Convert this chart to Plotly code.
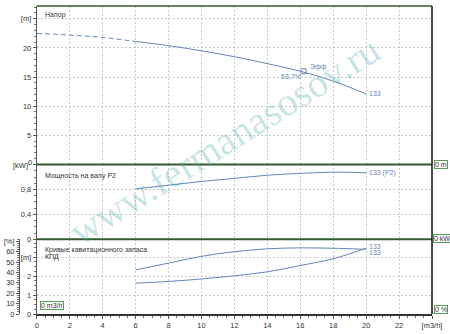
import plotly.graph_objects as go

# ---- data ----
q_dash = [0, 2, 4, 6]
head_dash = [22.5, 22.2, 21.8, 21.1]
q = [6, 8, 10, 12, 14, 16, 18, 20]
head = [21.1, 20.4, 19.5, 18.5, 17.3, 16.0, 14.3, 12.1]
power = [0.81, 0.87, 0.93, 0.98, 1.03, 1.06, 1.08, 1.07]
npsh = [1.63, 1.72, 1.85, 2.02, 2.23, 2.56, 2.92, 3.47]
eff = [42.5, 49.0, 55.5, 60.0, 62.8, 63.7, 63.3, 62.3]
bep_q, bep_h, bep_eff = 16.2, 16.0, "63,7%"
x_ticks = [0, 2, 4, 6, 8, 10, 12, 14, 16, 18, 20, 22, 24]
x_text = ["0", "2", "4", "6", "8", "10", "12", "14", "16", "18", "20", "22", "[m3/h]"]

W, H = 450, 334
ML, MR, MT, MB = 14, 18, 4, 14
PW, PH = W - ML - MR, H - MT - MB


def px(xp):
    return (xp - ML) / PW


def py(yp):
    return (H - MB - yp) / PH


BLUE = "#6585b8"
GRID = "#c8c8c8"
DKGREEN = "#2f5a2f"
TXT = "#333333"
FONT = "Liberation Sans"

x0 = px(32)
d_top = [py(166.5), 1]
d_mid = [py(243.3), py(166.5)]
d_bot = [0, py(243.3)]

fig = go.Figure()
line = dict(color=BLUE, width=1, shape="spline")
fig.add_trace(go.Scatter(x=q_dash, y=head_dash, mode="lines",
                         line=dict(color=BLUE, width=1, dash="5px,3px", shape="spline"),
                         xaxis="x", yaxis="y"))
fig.add_trace(go.Scatter(x=q, y=head, mode="lines", line=line, xaxis="x", yaxis="y"))
fig.add_trace(go.Scatter(x=[bep_q], y=[bep_h], mode="markers",
                         marker=dict(symbol="square-open", size=5, color=BLUE, line=dict(width=1)),
                         xaxis="x", yaxis="y"))
fig.add_trace(go.Scatter(x=q, y=power, mode="lines", line=line, xaxis="x", yaxis="y2"))
fig.add_trace(go.Scatter(x=q, y=npsh, mode="lines", line=line, xaxis="x", yaxis="y3"))
fig.add_trace(go.Scatter(x=q, y=eff, mode="lines", line=line, xaxis="x", yaxis="y4"))

tickfont = dict(family=FONT, size=7.5, color=TXT)
common_y = dict(showline=True, linecolor="#555", linewidth=1, ticks="outside", ticklen=3,
                tickcolor="#555", tickfont=tickfont, showgrid=True, gridcolor=GRID,
                griddash="2px,2px", gridwidth=1, zeroline=False,
                minor=dict(ticks="outside", ticklen=2, tickcolor="#777", showgrid=False))

fig.update_layout(
    width=W, height=H, margin=dict(l=ML, r=MR, t=MT, b=MB),
    paper_bgcolor="white", plot_bgcolor="white", showlegend=False,
    xaxis=dict(domain=[x0, 1], range=[0, 24], anchor="y3", tickvals=x_ticks, ticktext=x_text,
               showline=True, linecolor="#333", linewidth=1.5, ticks="outside", ticklen=3,
               tickcolor="#555", tickfont=tickfont, showgrid=True, gridcolor=GRID,
               griddash="2px,2px", zeroline=False,
               minor=dict(ticks="outside", ticklen=2, dtick=0.5, tickcolor="#777", showgrid=False)),
    yaxis=dict(domain=d_top, range=[0, 27.2], anchor="x",
               tickvals=[0, 5, 10, 15, 20, 25], ticktext=["", "5", "10", "15", "20", "[m]"],
               **common_y),
    yaxis2=dict(domain=d_mid, range=[0, 1.205], anchor="x",
                tickvals=[0, 0.4, 0.8, 1.2], ticktext=["0", "0,4", "0,8", ""],
                **common_y),
    yaxis3=dict(domain=d_bot, range=[0, 3.95], anchor="x",
                tickvals=[0, 1, 2, 3], ticktext=["0", "1", "2", "[m]"],
                **common_y),
    yaxis4=dict(overlaying="y3", range=[0, 72], anchor="free", position=0, side="left",
                tickvals=[0, 10, 20, 30, 40, 50, 60, 70],
                ticktext=["0", "10", "20", "30", "40", "50", "60", "[%]"],
                showline=True, linecolor="#555", linewidth=1, ticks="outside", ticklen=3,
                tickcolor="#555", tickfont=tickfont, showgrid=False, zeroline=False,
                minor=dict(ticks="outside", ticklen=2, dtick=2, tickcolor="#777")),
)
fig.update_layout(yaxis_minor_dtick=1, yaxis2_minor_dtick=0.1, yaxis3_minor_dtick=0.25)

shapes = []
for yp, col, w in [(4, DKGREEN, 1.5), (166.5, DKGREEN, 2), (243.3, DKGREEN, 2)]:
    shapes.append(dict(type="line", xref="paper", yref="paper", x0=x0, x1=1,
                       y0=py(yp), y1=py(yp), line=dict(color=col, width=w)))
shapes.append(dict(type="line", xref="paper", yref="paper", x0=1, x1=1, y0=0, y1=1,
                   line=dict(color="#111", width=1.5)))
fig.update_layout(shapes=shapes)

ann = []
lab = dict(family=FONT, size=7, color=TXT)


def ptext(txt, xp, yp, font, xanchor="left", **kw):
    ann.append(dict(x=px(xp), y=py(yp), xref="paper", yref="paper", text=txt,
                    showarrow=False, xanchor=xanchor, yanchor="middle", font=font, **kw))


ptext("Напор", 38, 13, lab)
ptext("Мощность на валу P2", 38, 178, lab)
ptext("Кривые кавитационного запаса", 38, 254, lab)
ptext("КПД", 38, 262, lab)
# shared tick labels at the top/middle panel boundary
ptext("0", 29, 165, tickfont, xanchor="right")
ptext("[kW]", 25, 168, tickfont, xanchor="right")

cl = dict(family=FONT, size=7, color=BLUE)


def dtext(txt, xv, yv, yref, xanchor="left", xshift=1, yshift=0):
    ann.append(dict(x=xv, y=yv, xref="x", yref=yref, text=txt, showarrow=False,
                    xanchor=xanchor, yanchor="middle", xshift=xshift, yshift=yshift, font=cl))


dtext("133", q[-1], head[-1], "y")
dtext("Эфф", bep_q, bep_h, "y", xshift=4, yshift=4)
dtext(bep_eff, bep_q, bep_h, "y", xanchor="right", xshift=-1, yshift=-5)
dtext("133 (P2)", q[-1], power[-1], "y2")
dtext("133", q[-1], eff[-1], "y4", yshift=3)
dtext("133", q[-1], npsh[-1], "y3", yshift=-4)

box = dict(family=FONT, size=7, color=TXT)
for txt, xp, yp in [("0 m", 434, 166.5), ("0 kW", 433, 243), ("0 %", 434, 315), ("0 m3/h", 35, 311)]:
    ptext(txt, xp, yp, box, bordercolor="#5a9a5a", borderwidth=1, borderpad=0, bgcolor="white")

# watermark
ptext("www.fermanasosov.ru", 222, 142,
      dict(family="Liberation Serif", size=40, color="rgba(80,170,175,0.33)"),
      xanchor="center", textangle=-32)
fig.update_layout(annotations=ann)

fig.write_html("out.html")
